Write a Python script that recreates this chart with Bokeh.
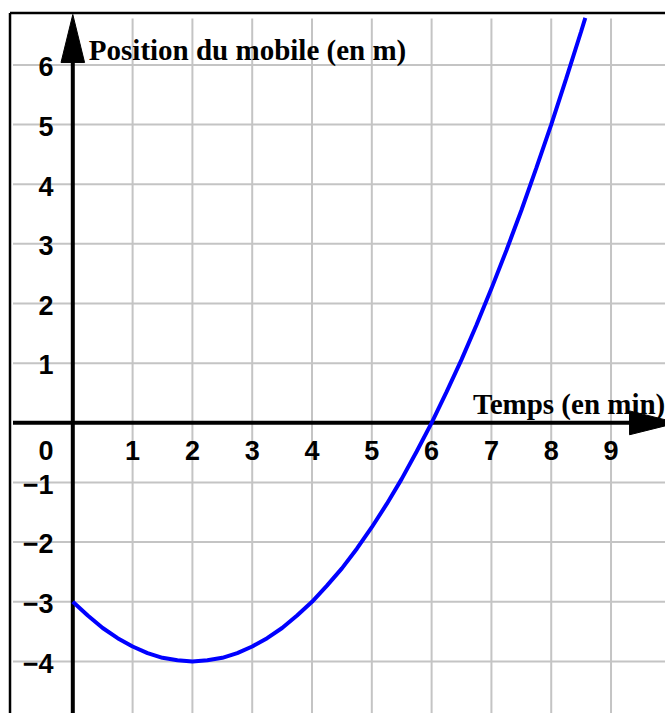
from bokeh.plotting import figure
from bokeh.models import Range1d
from bokeh.core.properties import value
from bokeh.embed import file_html
from bokeh.resources import INLINE

# ---- data ----
t_min = [0, 0.25, 0.5, 0.75, 1, 1.25, 1.5, 1.75, 2, 2.25, 2.5, 2.75, 3, 3.25, 3.5, 3.75,
         4, 4.25, 4.5, 4.75, 5, 5.25, 5.5, 5.75, 6, 6.25, 6.5, 6.75, 7, 7.25, 7.5, 7.75,
         8, 8.25, 8.5, 8.57]
pos_m = [-3.00, -3.23, -3.44, -3.61, -3.75, -3.86, -3.94, -3.98, -4.00, -3.98, -3.94, -3.86,
         -3.75, -3.61, -3.44, -3.23, -3.00, -2.73, -2.44, -2.11, -1.75, -1.36, -0.94, -0.48,
         0.00, 0.52, 1.06, 1.64, 2.25, 2.89, 3.56, 4.27, 5.00, 5.77, 6.56, 6.79]

x_ticks = [1, 2, 3, 4, 5, 6, 7, 8, 9]
x_tick_labels = ["1", "2", "3", "4", "5", "6", "7", "8", "9"]
y_ticks = [-4, -3, -2, -1, 1, 2, 3, 4, 5, 6]
y_tick_labels = ["\u22124", "\u22123", "\u22122", "\u22121", "1", "2", "3", "4", "5", "6"]
origin_label = "0"
y_title = "Position du mobile (en m)"
x_title = "Temps (en min)"

# ---- geometry ----
X0, X1 = -1.209, 9.911
Y0, Y1 = -4.873, 7.080
GRID_TOP = 6.78
GRID_LEFT = -1.0

p = figure(width=665, height=713, x_range=Range1d(X0, X1), y_range=Range1d(Y0, Y1),
           output_backend="svg", toolbar_location=None, min_border=0,
           x_axis_location=None, y_axis_location=None)
p.grid.visible = False
p.outline_line_color = None
p.background_fill_color = "white"
p.border_fill_color = "white"

grid_col = "#c4c4c4"
# vertical grid
p.segment(x0=x_ticks, y0=[Y0] * len(x_ticks), x1=x_ticks, y1=[GRID_TOP] * len(x_ticks),
          line_color=grid_col, line_width=2)
# horizontal grid
p.segment(x0=[GRID_LEFT] * len(y_ticks), y0=y_ticks, x1=[X1 + 0.5] * len(y_ticks), y1=y_ticks,
          line_color=grid_col, line_width=2)

# frame border (left and top)
bx = -1.050
by = 6.870
p.segment(x0=[bx, bx], y0=[Y0 - 0.5, by], x1=[bx, X1 + 0.5], y1=[by, by],
          line_color="black", line_width=2.5)

# axes
p.segment(x0=[0], y0=[Y0 - 0.5], x1=[0], y1=[6.05], line_color="black", line_width=4)
p.segment(x0=[GRID_LEFT], y0=[0], x1=[9.32], y1=[0], line_color="black", line_width=4)
# arrow heads
p.patch(x=[-0.197, 0.197, 0.0], y=[6.04, 6.04, 6.845], fill_color="black", line_color="black")
p.patch(x=[9.31, 9.31, 10.11], y=[0.2, -0.2, 0.0], fill_color="black", line_color="black")

# curve
p.line(t_min, pos_m, line_color="#0000ff", line_width=4)

# tick labels
lab_font = value("Liberation Sans")
p.text(x=x_ticks, y=[-0.46] * len(x_ticks), text=x_tick_labels, text_font=lab_font,
       text_font_size="27px", text_font_style="bold", text_align="center",
       text_baseline="middle", text_color="black")
p.text(x=[-0.323] * len(y_ticks), y=[v - 0.03 for v in y_ticks], text=y_tick_labels,
       text_font=lab_font, text_font_size="27px", text_font_style="bold",
       text_align="right", text_baseline="middle", text_color="black")
p.text(x=[-0.323], y=[-0.46], text=[origin_label], text_font=lab_font,
       text_font_size="27px", text_font_style="bold", text_align="right",
       text_baseline="middle", text_color="black")

# axis titles
ttl_font = value("Liberation Serif")
p.text(x=[0.268], y=[6.242], text=[y_title], text_font=ttl_font, text_font_size="29px",
       text_font_style="bold", text_align="left", text_baseline="alphabetic", text_color="black")
p.text(x=[6.692], y=[0.315], text=[x_title], text_font=ttl_font, text_font_size="29px",
       text_font_style="bold", text_align="left", text_baseline="alphabetic", text_color="black")

open("out.html", "w").write(file_html(p, INLINE))
